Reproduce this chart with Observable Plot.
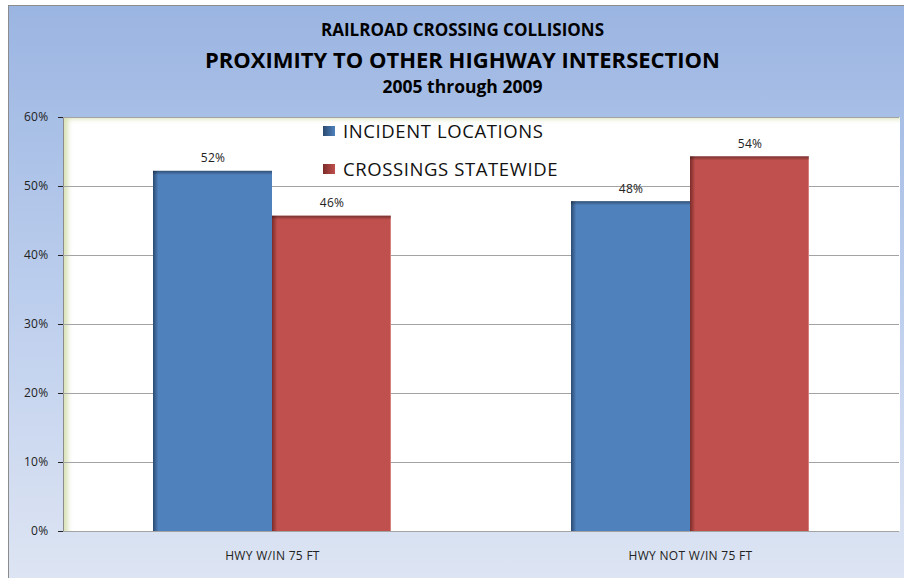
<!DOCTYPE html>
<html><head><meta charset="utf-8">
<script src="https://cdn.jsdelivr.net/npm/d3@7"></script>
<script src="https://cdn.jsdelivr.net/npm/@observablehq/plot@0.6"></script>
<style>
html,body{margin:0;padding:0;background:#fff;}
#wrap{position:absolute;left:8px;top:5px;width:895px;height:573px;border-left:1px solid #8c8c8c;border-top:1px solid #8c8c8c;
  background:linear-gradient(to bottom,#9bb5e2 0%,#a8bfe6 20%,#bfd0ee 55%,#d4def1 85%,#dde5f3 100%);overflow:hidden;font-family:"Open Sans",sans-serif;}
.t{position:absolute;left:12px;right:0;text-align:center;font-weight:bold;color:#000;white-space:nowrap;}
#plotbg{position:absolute;left:54px;top:111px;width:836px;height:414px;background:#fff;border-left:1px solid #8c8c8c;
  box-shadow:inset 5px 3px 5px -1px #d9e2b8;}
#chart{position:absolute;left:0;top:98px;}
.leg{position:absolute;left:314px;height:20px;display:flex;align-items:center;font-size:18.5px;line-height:20px;letter-spacing:0.6px;color:#111;white-space:nowrap;}
.leg span.sw{display:inline-block;width:12px;height:10px;margin-right:8px;flex:none;}
</style></head>
<body>
<div id="wrap">
  <div class="t" style="top:14.5px;font-size:17px;line-height:17px;">RAILROAD CROSSING COLLISIONS</div>
  <div class="t" style="top:42px;font-size:22px;line-height:22px;">PROXIMITY TO OTHER HIGHWAY INTERSECTION</div>
  <div class="t" style="top:71.5px;font-size:17.5px;line-height:17.5px;">2005 through 2009</div>
  <div id="plotbg"></div>
  <div id="chart"></div>
  <div class="leg" id="leg0" style="top:114.6px;"></div>
  <div class="leg" id="leg1" style="top:153.4px;"></div>
</div>
<script>
const categories = ["HWY W/IN 75 FT", "HWY NOT W/IN 75 FT"];
const series = ["INCIDENT LOCATIONS", "CROSSINGS STATEWIDE"];
const incidentLocations = [52.2, 47.8];
const crossingsStatewide = [45.7, 54.3];
const yTicks = [0, 10, 20, 30, 40, 50, 60];

const baseColors = ["#4f81bd", "#c0504d"];
const darkColors = ["#2b4a70", "#7b2c2a"];
const edgeColors = ["#4f81bd", "#e6a3a1"];

const data = categories.flatMap((c, i) => [
  {cat: c, ser: series[0], v: incidentLocations[i]},
  {cat: c, ser: series[1], v: crossingsStatewide[i]}
]);

const plot = Plot.plot({
  width: 895,
  height: 474,
  marginTop: 13,
  marginBottom: 47,
  marginLeft: 54,
  marginRight: 5,
  style: {background: "transparent", fontFamily: "'Open Sans', sans-serif", fontSize: "12px", color: "#222", letterSpacing: "0.3px"},
  fx: {domain: categories, padding: 0, label: null, tickSize: 0, tickPadding: 20},
  x: {domain: series, axis: null, paddingInner: 0, paddingOuter: 0.749},
  y: {domain: [0, 60], ticks: yTicks, tickFormat: d => d + "%", label: null, tickSize: 5, tickPadding: 10},
  color: {domain: series, range: ["url(#gBlue)", "url(#gRed)"]},
  marks: [
    Plot.gridY(yTicks, {stroke: "#a3a3a3", strokeOpacity: 1}),
    Plot.barY(data, {fx: "cat", x: "ser", y: "v", fill: "ser"}),
    Plot.barY(data, {fx: "cat", x: "ser", y1: d => d.v - 0.6, y2: "v", fill: "url(#gTop)"}),
    Plot.text(data, {fx: "cat", x: "ser", y: "v", text: d => Math.round(d.v) + "%", dy: -9, lineAnchor: "bottom", fill: "#222", fontSize: 12})
  ]
});

// gradient definitions for the bevelled bars
const svgNS = "http://www.w3.org/2000/svg";
const defs = document.createElementNS(svgNS, "defs");
function grad(id, vertical, stops) {
  const g = document.createElementNS(svgNS, "linearGradient");
  g.setAttribute("id", id);
  g.setAttribute("x1", "0"); g.setAttribute("y1", "0");
  g.setAttribute("x2", vertical ? "0" : "1"); g.setAttribute("y2", vertical ? "1" : "0");
  stops.forEach(([o, c]) => {
    const s = document.createElementNS(svgNS, "stop");
    s.setAttribute("offset", o); s.setAttribute("stop-color", c); g.appendChild(s);
  });
  defs.appendChild(g);
}
grad("gBlue", false, [[0, darkColors[0]], [0.045, baseColors[0]], [0.99, baseColors[0]], [1, edgeColors[0]]]);
grad("gRed", false, [[0, darkColors[1]], [0.045, baseColors[1]], [0.99, baseColors[1]], [1, edgeColors[1]]]);
grad("gTop", true, [[0, "rgba(0,0,0,0.38)"], [1, "rgba(0,0,0,0)"]]);
plot.insertBefore(defs, plot.firstChild);
document.getElementById("chart").appendChild(plot);

// legend
series.forEach((s, i) => {
  const el = document.getElementById("leg" + i);
  el.innerHTML = `<span class="sw" style="background:linear-gradient(to right, ${darkColors[i]}, ${baseColors[i]})"></span><span>${s}</span>`;
});
</script>
</body></html>
